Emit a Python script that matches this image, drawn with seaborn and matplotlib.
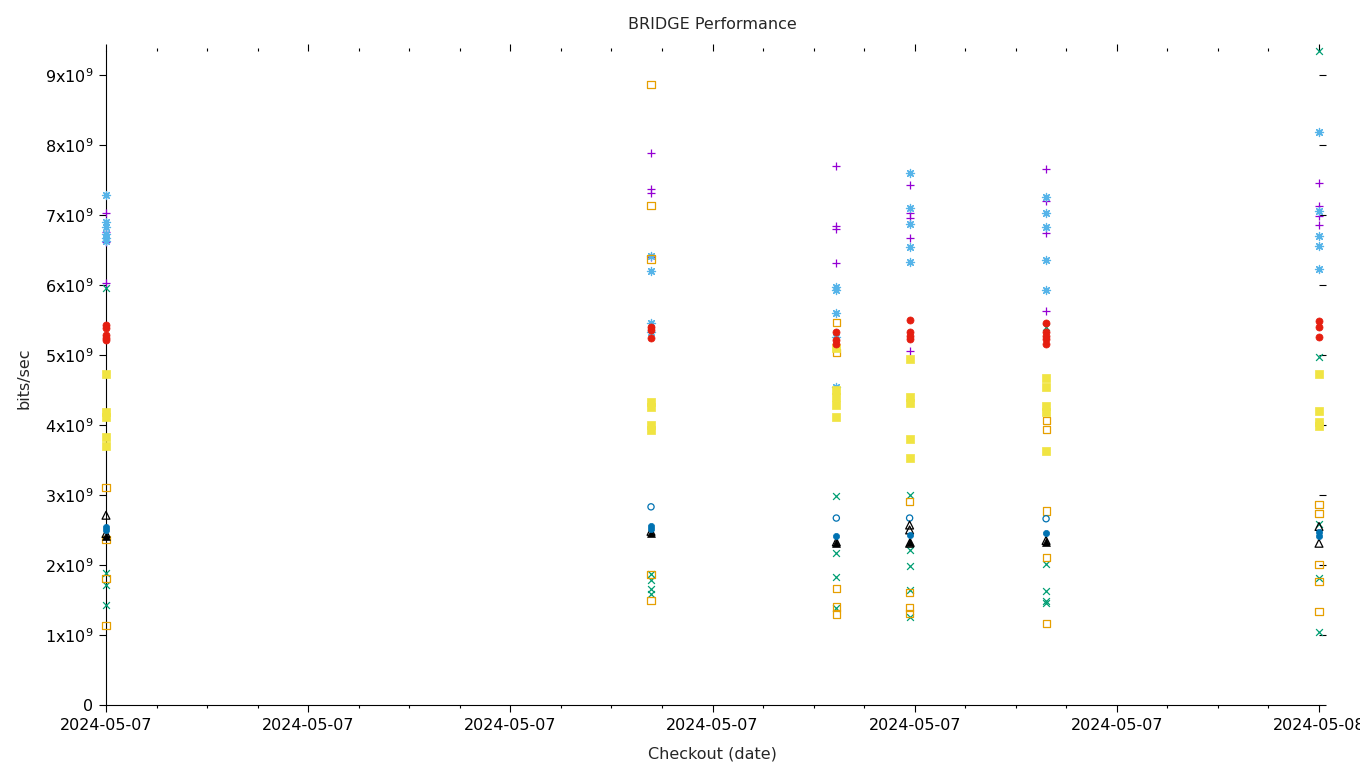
import matplotlib
matplotlib.use("Agg")
import matplotlib.pyplot as plt
import matplotlib.dates as mdates
from matplotlib.ticker import FuncFormatter, MultipleLocator
import pandas as pd
import seaborn as sns

# ---------------- data (values in units of 1e9 bits/sec) ----------------
checkouts = ["2024-05-07 00:00", "2024-05-07 10:47", "2024-05-07 14:27",
             "2024-05-07 15:54", "2024-05-07 18:36", "2024-05-08 00:00"]

# one inner list per checkout
purple_plus = [[7.03, 6.76, 6.61, 6.03], [7.89, 7.37, 7.31, 6.40],
               [7.70, 6.84, 6.80, 6.31], [7.43, 7.03, 6.96, 6.67, 5.06],
               [7.66, 7.20, 6.74, 5.63], [7.46, 7.13, 6.99, 6.86]]
green_cross = [[5.96, 1.88, 1.71, 1.43], [1.87, 1.78, 1.65, 1.58],
               [2.99, 2.17, 1.83, 1.39], [3.00, 2.21, 1.99, 1.64, 1.26],
               [5.40, 2.01, 1.63, 1.48, 1.45], [9.34, 4.97, 2.59, 1.81, 1.04]]
sky_star = [[7.29, 6.90, 6.82, 6.72, 6.67, 6.63], [6.41, 6.20, 5.46, 5.32],
            [5.97, 5.93, 5.60, 5.26, 4.54], [7.60, 7.10, 6.87, 6.54, 6.33],
            [7.26, 7.02, 6.83, 6.36, 5.92], [8.19, 7.06, 6.70, 6.56, 6.23]]
orange_box = [[3.11, 2.37, 1.81, 1.13], [8.86, 7.13, 6.37, 1.87, 1.49],
              [5.46, 5.04, 1.66, 1.40, 1.30], [2.90, 1.61, 1.39, 1.31],
              [4.06, 3.93, 2.77, 2.10, 1.17], [2.86, 2.73, 2.00, 1.77, 1.34]]
yellow_sq = [[4.73, 4.19, 4.12, 3.83, 3.70], [4.33, 4.26, 4.00, 3.93],
             [5.10, 4.50, 4.40, 4.29, 4.11], [4.94, 4.40, 4.32, 3.80, 3.53],
             [4.67, 4.54, 4.27, 4.19, 3.63], [4.73, 4.20, 4.04, 3.98]]
blue_ring = [[], [2.83], [2.67], [2.67], [2.66], []]
red_dot = [[5.43, 5.38, 5.28, 5.24, 5.21], [5.40, 5.36, 5.24],
           [5.33, 5.21, 5.16], [5.50, 5.33, 5.27, 5.23],
           [5.46, 5.32, 5.27, 5.22, 5.16], [5.49, 5.40, 5.26]]
black_tri = [[2.71, 2.45], [2.48], [2.33], [2.57, 2.50, 2.31], [2.35], [2.55, 2.31]]
black_tri_f = [[2.41], [2.45], [2.31], [2.33], [2.33], []]
blue_dot = [[2.54, 2.50], [2.55, 2.52], [2.41], [2.43], [2.46], [2.47, 2.41]]

# (name, values, marker, color, filled, size)
series = [
    ("s1", purple_plus, "+", "#9400d3", False, 30),
    ("s2", green_cross, "x", "#009e73", False, 24),
    ("s3", sky_star, (8, 2, 0), "#56b4e9", False, 34),
    ("s4", orange_box, "s", "#e69f00", "open", 26),
    ("s5", yellow_sq, "s", "#f0e442", True, 30),
    ("s6", blue_ring, "o", "#0072b2", "open", 20),
    ("s7", red_dot, "o", "#e51e10", True, 26),
    ("s8", black_tri, "^", "#000000", "open", 32),
    ("s9", black_tri_f, "^", "#000000", True, 32),
    ("s10", blue_dot, "o", "#0072b2", True, 20),
]

rows = []
for name, vals, *_ in series:
    for t, col in zip(checkouts, vals):
        for v in col:
            rows.append({"series": name, "date": pd.Timestamp(t), "bps": v * 1e9})
df = pd.DataFrame(rows)

# ---------------- plot ----------------
sns.set_style("ticks")
plt.rcParams["font.family"] = ["DejaVu Sans"]
plt.rcParams["mathtext.default"] = "regular"

fig = plt.figure(figsize=(13.6, 7.68), dpi=100)
ax = fig.add_axes([106 / 1360, 1 - 705 / 768, (1319 - 106) / 1360, (705 - 51) / 768])

for name, vals, marker, color, filled, size in series:
    sub = df[df["series"] == name]
    if filled is False:
        sns.scatterplot(data=sub, x="date", y="bps", ax=ax, marker=marker,
                        color=color, s=size, linewidth=0.9, legend=False,
                        clip_on=False, zorder=3)
    elif filled == "open":
        sns.scatterplot(data=sub, x="date", y="bps", ax=ax, marker=marker,
                        facecolor="none", edgecolor=color, s=size,
                        linewidth=0.9, legend=False, clip_on=False, zorder=3)
    else:
        sns.scatterplot(data=sub, x="date", y="bps", ax=ax, marker=marker,
                        color=color, edgecolor=color, s=size, linewidth=0.5,
                        legend=False, clip_on=False, zorder=3)

ax.set_xlim(df["date"].min(), df["date"].max())
ax.set_ylim(0, df["bps"].max())

ax.xaxis.set_major_locator(mdates.HourLocator(byhour=[0, 4, 8, 12, 16, 20]))
ax.xaxis.set_minor_locator(mdates.HourLocator())
ax.xaxis.set_major_formatter(mdates.DateFormatter("%Y-%m-%d"))

ax.yaxis.set_major_locator(MultipleLocator(1e9))


def yfmt(v, pos):
    n = int(round(v / 1e9))
    return "0" if n == 0 else r"$%dx10^{9}$" % n


ax.yaxis.set_major_formatter(FuncFormatter(yfmt))

for sp in ["top", "right"]:
    ax.spines[sp].set_visible(False)
for sp in ["left", "bottom"]:
    ax.spines[sp].set_linewidth(0.8)
    ax.spines[sp].set_color("black")

ax.tick_params(which="both", direction="out", top=True, right=True,
               labeltop=False, labelright=False, width=0.8, color="black",
               labelsize=11.5, labelcolor="black")
ax.tick_params(which="major", length=5, pad=4)
ax.tick_params(which="minor", length=2.5)
ax.yaxis.set_tick_params(which="minor", length=0)

ax.set_title("BRIDGE Performance", fontsize=11.5, pad=16)
ax.set_xlabel("Checkout (date)", fontsize=11.5, labelpad=10)
ax.set_ylabel("bits/sec", fontsize=11.5, labelpad=10)

fig.savefig("out.png", dpi=100)
